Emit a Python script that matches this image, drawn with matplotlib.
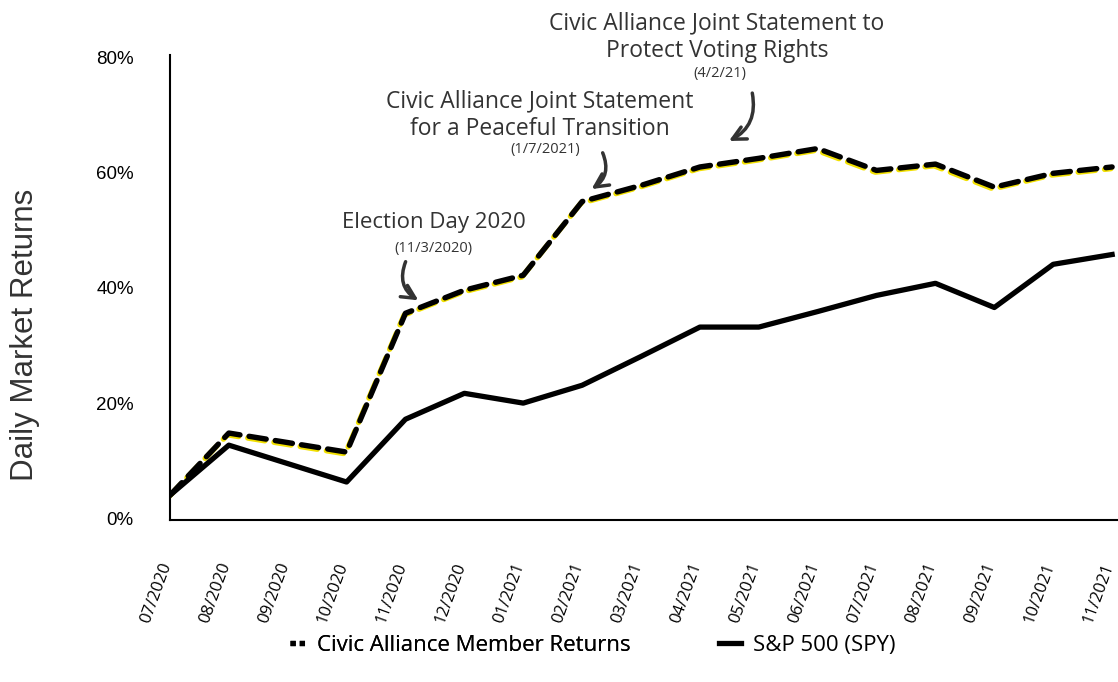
import matplotlib
matplotlib.use('Agg')
import matplotlib.pyplot as plt
import matplotlib.transforms as mtransforms
from matplotlib.lines import Line2D

plt.rcParams['font.family'] = ['Open Sans', 'DejaVu Sans']

months = ['07/2020', '08/2020', '09/2020', '10/2020', '11/2020', '12/2020',
          '01/2021', '02/2021', '03/2021', '04/2021', '05/2021', '06/2021',
          '07/2021', '08/2021', '09/2021', '10/2021', '11/2021']

# civic alliance returns (no point for 09/2020, line goes straight 08 -> 10)
civic_x = [0, 1, 3, 4, 5, 6, 7, 8, 9, 10, 11, 12, 13, 14, 15, 16]
civic = [4.0, 14.8, 11.5, 35.6, 39.6, 42.2, 55.0, 57.8, 61.0, 62.5, 64.2,
         60.4, 61.5, 57.5, 59.9, 61.0]

spy_x = [0, 1, 3, 4, 5, 6, 7, 8, 9, 10, 11, 12, 13, 14, 15, 16]
spy = [4.0, 12.7, 6.3, 17.2, 21.7, 20.0, 23.1, 28.1, 33.2, 33.2, 35.9,
       38.7, 40.8, 36.6, 44.1, 45.8]

yticks = [0, 20, 40, 60, 80]
ytick_labels = ['0%', '20%', '40%', '60%', '80%']

text_col = '#333333'

fig = plt.figure(figsize=(11.18, 6.82), dpi=100)
ax = fig.add_axes([0.152, 0.2375, 0.848, 0.6815])

# yellow shadow under the dashed line
shadow = mtransforms.offset_copy(ax.transData, fig=fig, x=-1.3, y=-1.7, units='dots')
ax.plot(civic_x, civic, color='#f2e000', lw=3.9, dashes=(3.2, 1.7),
        dash_capstyle='round', transform=shadow, zorder=2)
ax.plot(civic_x, civic, color='black', lw=3.9, dashes=(3.2, 1.7),
        dash_capstyle='round', zorder=3)
spy_line, = ax.plot(spy_x, spy, color='black', lw=3.8, zorder=3,
                    label='S&P 500 (SPY)')

ax.set_xlim(0, 16.1)
ax.set_ylim(-0.3, 80.4)
ax.set_yticks(yticks)
ax.set_yticklabels(ytick_labels, fontfamily='Liberation Sans')
ax.set_xticks(range(len(months)))
ax.set_xticklabels(months, rotation=70, ha='right', va='center',
                   rotation_mode='anchor')
ax.tick_params(axis='y', length=0, pad=26, labelsize=13.5)
ax.tick_params(axis='x', length=0, pad=31, labelsize=12)
shift = mtransforms.ScaledTranslation(-3 / 100, 0, fig.dpi_scale_trans)
for lab in ax.get_xticklabels():
    lab.set_transform(lab.get_transform() + shift)
for s in ['top', 'right']:
    ax.spines[s].set_visible(False)
for s in ['left', 'bottom']:
    ax.spines[s].set_linewidth(1.5)

fig.text(25 / 1118, 1 - 335 / 682, 'Daily Market Returns', rotation=90,
         ha='center', va='center', fontsize=22.5, color=text_col,
         fontfamily='Liberation Sans')

# annotations
arrow = dict(arrowstyle='->', color=text_col, lw=2.5, mutation_scale=24)

ax.text(4.48, 51.4, 'Election Day 2020', ha='center', va='center',
        fontsize=16, color=text_col)
ax.text(4.48, 46.9, '(11/3/2020)', ha='center', va='center',
        fontsize=10.5, color=text_col)
ax.annotate('', xy=(4.26, 37.6), xytext=(4.02, 45.0),
            arrowprops=dict(connectionstyle='arc3,rad=0.45', **arrow))

ax.text(6.28, 70.0, 'Civic Alliance Joint Statement\nfor a Peaceful Transition',
        ha='center', va='center', fontsize=16.5, color=text_col, linespacing=1.2)
ax.text(6.37, 64.0, '(1/7/2021)', ha='center', va='center',
        fontsize=10.5, color=text_col)
ax.annotate('', xy=(7.12, 56.9), xytext=(7.33, 63.9),
            arrowprops=dict(connectionstyle='arc3,rad=-0.45', **arrow))

ax.text(9.29, 83.6, 'Civic Alliance Joint Statement to\nProtect Voting Rights',
        ha='center', va='center', fontsize=16.5, color=text_col, linespacing=1.2)
ax.text(9.34, 77.2, '(4/2/21)', ha='center', va='center',
        fontsize=10.5, color=text_col)
ax.annotate('', xy=(9.45, 65.3), xytext=(9.88, 74.3),
            arrowprops=dict(connectionstyle='arc3,rad=-0.4', **arrow))

# two one-entry legends so each handle can have its own length
civic_handle = Line2D([], [], color='black', lw=3.8, dashes=(1.0, 0.75),
                      label='Civic Alliance Member Returns')
leg1 = fig.legend(handles=[civic_handle], loc='center left',
                  bbox_to_anchor=(270 / 1118, 0.054), frameon=False,
                  fontsize=16, handlelength=0.68, handletextpad=0.55)
fig.add_artist(leg1)
fig.legend(handles=[spy_line], loc='center left',
           bbox_to_anchor=(699 / 1118, 0.054), frameon=False,
           fontsize=16, handlelength=1.0, handletextpad=0.55)

fig.savefig('out.png', dpi=100)
